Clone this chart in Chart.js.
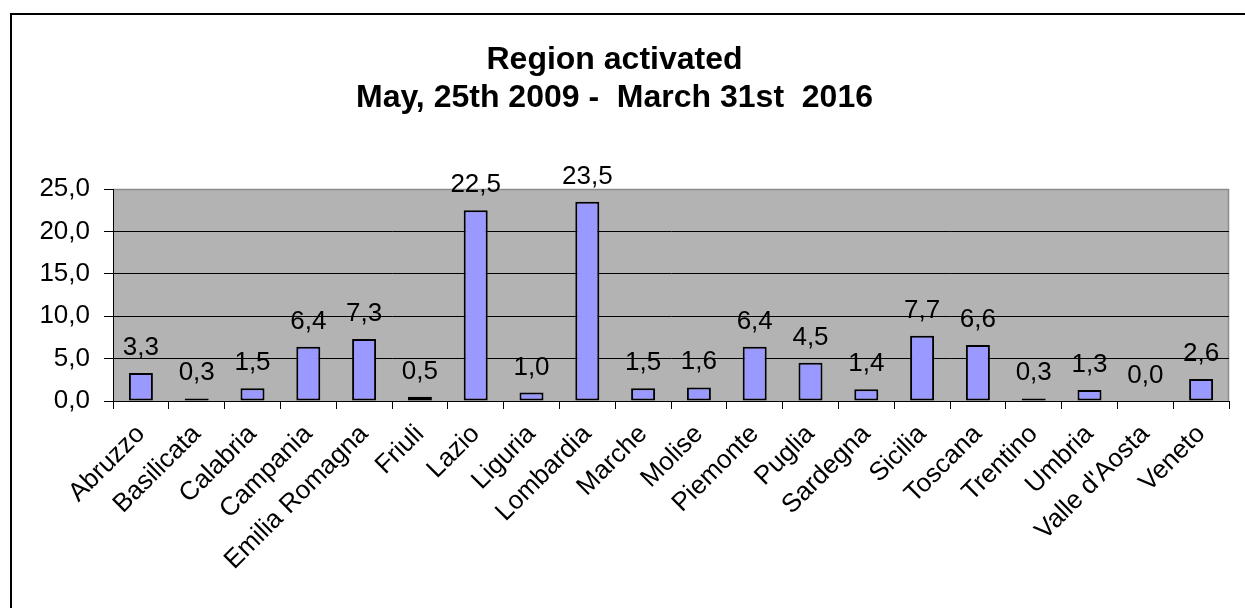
<!DOCTYPE html>
<html>
<head>
<meta charset="utf-8">
<script src="https://cdn.jsdelivr.net/npm/chart.js@4"></script>
<style>
  html, body { margin: 0; padding: 0; background: #fff; }
  #wrap { position: relative; width: 1245px; height: 608px; }
</style>
</head>
<body>
<div id="wrap"><canvas id="chart" width="1245" height="608"></canvas></div>
<script>
/* ─── Data ─────────────────────────────────────────────── */
const regions = ['Abruzzo', 'Basilicata', 'Calabria', 'Campania', 'Emilia Romagna', 'Friuli',
  'Lazio', 'Liguria', 'Lombardia', 'Marche', 'Molise', 'Piemonte', 'Puglia', 'Sardegna',
  'Sicilia', 'Toscana', 'Trentino', 'Umbria', "Valle d'Aosta", 'Veneto'];
const shares = [3.3, 0.3, 1.5, 6.4, 7.3, 0.5, 22.5, 1.0, 23.5, 1.5, 1.6, 6.4, 4.5, 1.4,
  7.7, 6.6, 0.3, 1.3, 0.0, 2.6];
const yTicks = [0, 5, 10, 15, 20, 25];
const titleLines = ['Region activated', 'May, 25th 2009 -  March 31st  2016'];

const FONT = "'Liberation Sans', Arial, sans-serif";
const fmt = v => v.toFixed(1).replace('.', ',');

/* ─── Frame + plot background ──────────────────────────── */
const framePlugin = {
  id: 'frame',
  beforeDraw(chart) {
    const { ctx, chartArea: a } = chart;
    ctx.save();
    ctx.fillStyle = '#b3b3b3';
    ctx.fillRect(a.left, a.top, a.right - a.left, a.bottom - a.top);
    ctx.strokeStyle = '#8c8c8c';
    ctx.lineWidth = 1.5;
    ctx.beginPath();
    ctx.moveTo(a.left, a.top + 0.5);
    ctx.lineTo(a.right - 0.5, a.top + 0.5);
    ctx.lineTo(a.right - 0.5, a.bottom);
    ctx.stroke();
    // outer chart border (left + top)
    ctx.strokeStyle = '#000';
    ctx.lineWidth = 2;
    ctx.beginPath();
    ctx.moveTo(11, chart.height);
    ctx.lineTo(11, 14);
    ctx.lineTo(chart.width, 14);
    ctx.stroke();
    ctx.restore();
  }
};

/* ─── Value labels above bars ──────────────────────────── */
const valueLabels = {
  id: 'valueLabels',
  afterDatasetsDraw(chart) {
    const { ctx } = chart;
    const meta = chart.getDatasetMeta(0);
    ctx.save();
    ctx.font = '26px ' + FONT;
    ctx.fillStyle = '#000';
    ctx.textAlign = 'center';
    ctx.textBaseline = 'alphabetic';
    meta.data.forEach((bar, i) => {
      ctx.fillText(fmt(shares[i]), bar.x, bar.y - 18);
    });
    ctx.restore();
  }
};

new Chart(document.getElementById('chart'), {
  type: 'bar',
  data: {
    labels: regions,
    datasets: [{
      data: shares,
      backgroundColor: '#9999ff',
      borderColor: '#000',
      borderWidth: ctx => (ctx.raw > 0 ? 2 : 0),
      borderSkipped: false,
      categoryPercentage: 1,
      barPercentage: 0.43
    }]
  },
  options: {
    responsive: false,
    animation: false,
    events: [],
    layout: { padding: { left: 0, right: 16, top: 0, bottom: 0 } },
    plugins: {
      legend: { display: false },
      tooltip: { enabled: false },
      title: {
        display: true,
        text: titleLines,
        color: '#000',
        font: { family: FONT, size: 32, weight: 'bold', lineHeight: 38 / 32 },
        padding: { top: 41, bottom: 72 }
      }
    },
    scales: {
      x: {
        afterFit: s => { s.height = 207; },
        border: { color: '#000', width: 1 },
        grid: { display: true, drawOnChartArea: false, drawTicks: true, tickLength: 8, color: '#000', offset: true },
        ticks: {
          color: '#000', font: { family: FONT, size: 26 },
          maxRotation: 45, minRotation: 45, autoSkip: false, padding: 10
        }
      },
      y: {
        min: 0, max: 25,
        afterFit: s => { s.width = 113; },
        afterBuildTicks: s => { s.ticks = yTicks.map(v => ({ value: v })); },
        border: { color: '#000', width: 1 },
        grid: {
          color: c => (c.tick && c.tick.value === 25 ? 'rgba(0,0,0,0)' : '#000'),
          tickColor: '#000', tickLength: 9, lineWidth: 1
        },
        ticks: { color: '#000', font: { family: FONT, size: 26 }, padding: 14, callback: v => fmt(v) }
      }
    }
  },
  plugins: [framePlugin, valueLabels]
});
</script>
</body>
</html>
